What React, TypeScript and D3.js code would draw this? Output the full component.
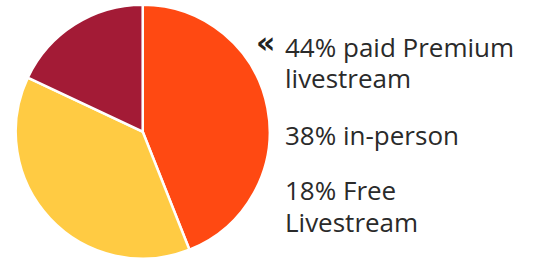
import React from 'react';
import * as d3 from 'd3';

const categories = ['paid Premium livestream', 'in-person', 'Free Livestream'];
const shares = [44, 38, 18];
const colors = ['#FF4912', '#FFCB43', '#A31B36'];
const labelLines = [['44% paid Premium', 'livestream'], ['38% in-person'], ['18% Free', 'Livestream']];
const labelBaselines = [[57, 88], [145], [200, 232]];

export default function App() {
  const width = 537;
  const height = 259;
  const cx = 142.7;
  const cy = 131.7;
  const r = 127;

  const pie = d3.pie<number>().sort(null).value(d => d);
  const arc = d3.arc<d3.PieArcDatum<number>>().innerRadius(0).outerRadius(r);
  const arcs = pie(shares);

  return (
    <svg width={width} height={height} style={{ position: 'absolute', left: 0, top: 0 }}>
      <g transform={`translate(${cx},${cy})`}>
        {arcs.map((a, i) => (
          <path key={categories[i]} d={arc(a) || ''} fill={colors[i]} stroke="#fff" strokeWidth={2.5} />
        ))}
      </g>
      <text x={256} y={53} fontFamily="DejaVu Sans" fontWeight="bold" fontSize={30} fill="#222">«</text>
      <g fontFamily="Open Sans" fontSize={26} fill="#2a2a2a">
        {labelLines.map((lines, i) =>
          lines.map((line, j) => (
            <text key={`${i}-${j}`} x={285} y={labelBaselines[i][j]}>{line}</text>
          ))
        )}
      </g>
    </svg>
  );
}
